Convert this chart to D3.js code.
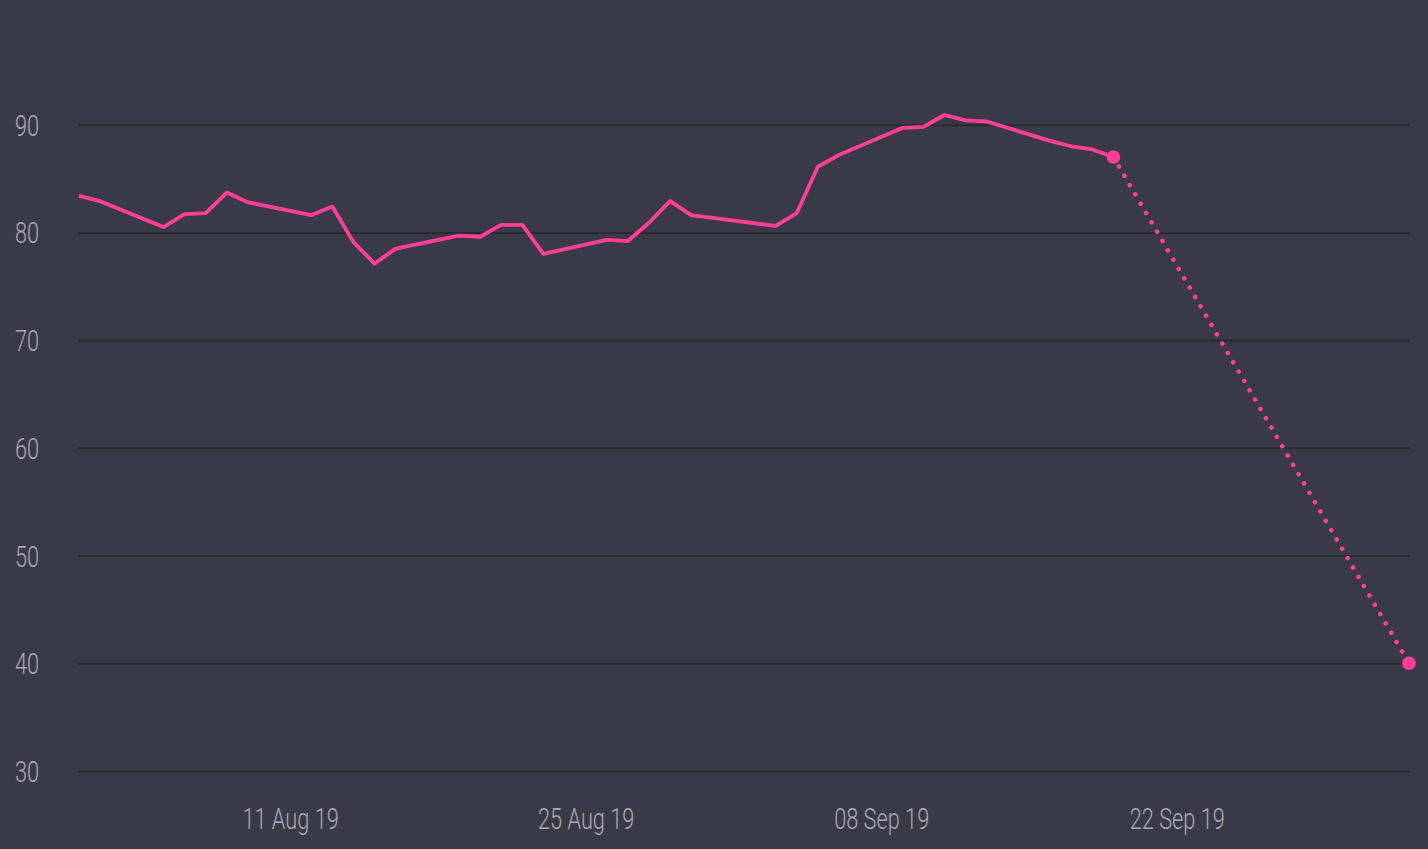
<!DOCTYPE html>
<html>
<head>
<meta charset="utf-8">
<script src="https://cdn.jsdelivr.net/npm/d3@7"></script>
<style>
  html, body { margin: 0; padding: 0; background: #3a3a46; }
  svg { display: block; }
  .tick text { font-family: Roboto, "Noto Sans", sans-serif; font-weight: 300; font-size: 29px; fill: #a9a9b9; }
</style>
</head>
<body>
<script>
// daily closing values (weekdays only)
const dates = [
  "2019-08-01", "2019-08-02", "2019-08-05", "2019-08-06", "2019-08-07", "2019-08-08", "2019-08-09",
  "2019-08-12", "2019-08-13", "2019-08-14", "2019-08-15", "2019-08-16",
  "2019-08-19", "2019-08-20", "2019-08-21", "2019-08-22", "2019-08-23",
  "2019-08-26", "2019-08-27", "2019-08-28", "2019-08-29", "2019-08-30",
  "2019-09-03", "2019-09-04", "2019-09-05", "2019-09-06",
  "2019-09-09", "2019-09-10", "2019-09-11", "2019-09-12", "2019-09-13",
  "2019-09-16", "2019-09-17", "2019-09-18", "2019-09-19"
];
const values = [
  83.4, 82.9, 80.5, 81.7, 81.8, 83.7, 82.8,
  81.6, 82.4, 79.1, 77.1, 78.5,
  79.7, 79.6, 80.7, 80.7, 78.0,
  79.3, 79.2, 80.9, 82.9, 81.6,
  80.6, 81.8, 86.1, 87.2,
  89.7, 89.8, 90.9, 90.4, 90.3,
  88.5, 88.0, 87.7, 87.0
];
// projected point
const forecastDate = "2019-10-03";
const forecastValue = 40;

const yTicks = [30, 40, 50, 60, 70, 80, 90];
const xTicks = ["2019-08-11", "2019-08-25", "2019-09-08", "2019-09-22"];

const margin = { top: 17, right: 19, bottom: 78, left: 79 };
const W = 1428, H = 849;
const width = W - margin.left - margin.right;
const height = H - margin.top - margin.bottom;
const squeeze = 0.75; // narrow the font to look condensed

const parse = d3.timeParse("%Y-%m-%d");
const data = dates.map((d, i) => ({ date: parse(d), value: values[i] }));
const last = data[data.length - 1];
const forecast = [last, { date: parse(forecastDate), value: forecastValue }];

const svg = d3.select("body")
  .append("svg")
  .attr("width", W)
  .attr("height", H)
  .style("background", "#3a3a46")
  .append("g")
  .attr("transform", `translate(${margin.left},${margin.top})`);

const x = d3.scaleTime()
  .domain([parse("2019-08-01"), parse(forecastDate)])
  .range([0, width]);

const y = d3.scaleLinear()
  .domain([30, 100])
  .range([height, 0]);

// Y axis + gridlines
const yAxis = svg.append("g")
  .call(d3.axisLeft(y).tickValues(yTicks).tickSize(-width - 1).tickPadding(0));
yAxis.select(".domain").remove();
yAxis.selectAll(".tick line")
  .attr("x1", -1)
  .attr("stroke", "#2a2a33")
  .attr("stroke-width", 2);
yAxis.selectAll(".tick text")
  .attr("x", 0)
  .attr("dy", "0.36em")
  .attr("text-anchor", "start")
  .attr("transform", `translate(-64,0) scale(${squeeze},1)`);

// X axis
const xAxis = svg.append("g")
  .attr("transform", `translate(0,${height})`)
  .call(d3.axisBottom(x)
    .tickValues(xTicks.map(parse))
    .tickFormat(d3.timeFormat("%d %b %y"))
    .tickSize(0));
xAxis.select(".domain").remove();
xAxis.selectAll(".tick text")
  .attr("y", 58)
  .attr("dy", 0)
  .attr("transform", `scale(${squeeze},1)`);

const line = d3.line()
  .x(d => x(d.date))
  .y(d => y(d.value));

// projection
svg.append("path")
  .datum(forecast)
  .attr("fill", "none")
  .attr("stroke", "#ff3e98")
  .attr("stroke-width", 4.5)
  .attr("stroke-linecap", "round")
  .attr("stroke-dasharray", "0.1 10.7")
  .attr("d", line);

svg.append("path")
  .datum(data)
  .attr("fill", "none")
  .attr("stroke", "#ff3e98")
  .attr("stroke-width", 3.8)
  .attr("stroke-linejoin", "round")
  .attr("d", line);

svg.selectAll(".pt")
  .data(forecast)
  .join("circle")
  .attr("class", "pt")
  .attr("cx", d => x(d.date))
  .attr("cy", d => y(d.value))
  .attr("r", 6.8)
  .attr("fill", "#ff3e98");
</script>
</body>
</html>
